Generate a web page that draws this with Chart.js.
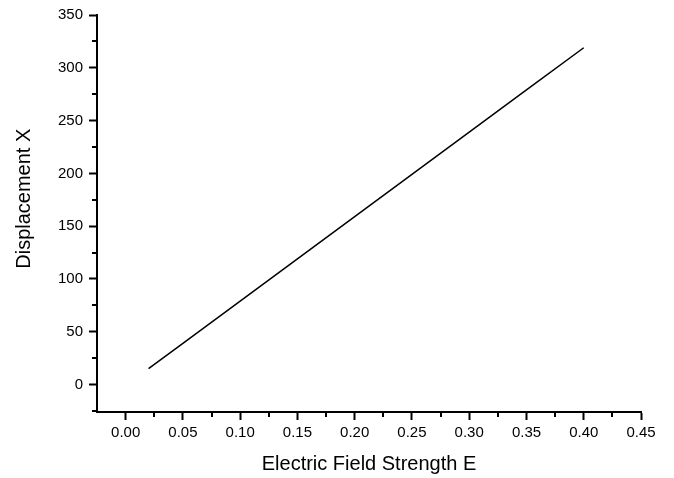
<!DOCTYPE html>
<html>
<head>
<meta charset="utf-8">
<script src="https://cdn.jsdelivr.net/npm/chart.js@4/dist/chart.umd.min.js"></script>
<style>
  html, body { margin: 0; padding: 0; background: #fff; }
  #wrap { width: 674px; height: 478px; }
</style>
</head>
<body>
<div id="wrap"><canvas id="dispChart"></canvas></div>
<script>
// values
const fieldE = [0.02, 0.05, 0.10, 0.15, 0.20, 0.25, 0.30, 0.35, 0.40];
const displacement = [15, 39, 79, 119, 159, 199, 239, 279, 319];

const xTicks = [0.00, 0.05, 0.10, 0.15, 0.20, 0.25, 0.30, 0.35, 0.40, 0.45];
const yTicks = [0, 50, 100, 150, 200, 250, 300, 350];
const xMinor = [0.025, 0.075, 0.125, 0.175, 0.225, 0.275, 0.325, 0.375, 0.425];
const yMinor = [-25, 25, 75, 125, 175, 225, 275, 325];

const yTitle = 'Displacement X';
const FONT = "'Liberation Sans', Arial, Helvetica, sans-serif";

// minor ticks (shorter, outward) and the y title, which sits a bit above centre in the original
const extras = {
    id: 'extras',
    afterDraw(chart) {
        const { ctx, chartArea, scales } = chart;
        ctx.save();
        ctx.strokeStyle = '#000';
        ctx.lineWidth = 2;
        ctx.beginPath();
        xMinor.forEach(v => {
            const px = Math.round(scales.x.getPixelForValue(v));
            ctx.moveTo(px, chartArea.bottom);
            ctx.lineTo(px, chartArea.bottom + 5);
        });
        yMinor.forEach(v => {
            const py = Math.round(scales.y.getPixelForValue(v));
            ctx.moveTo(chartArea.left, py);
            ctx.lineTo(chartArea.left - 5, py);
        });
        ctx.stroke();

        ctx.translate(24, scales.y.getPixelForValue(176));
        ctx.rotate(-Math.PI / 2);
        ctx.fillStyle = '#000';
        ctx.font = `20px ${FONT}`;
        ctx.textAlign = 'center';
        ctx.textBaseline = 'middle';
        ctx.fillText(yTitle, 0, 0);
        ctx.restore();
    }
};

const ctx = document.getElementById('dispChart').getContext('2d');
new Chart(ctx, {
    type: 'line',
    data: {
        datasets: [{
            data: fieldE.map((e, i) => ({ x: e, y: displacement[i] })),
            borderColor: '#000',
            borderWidth: 1.5,
            pointRadius: 0,
            fill: false,
            tension: 0
        }]
    },
    options: {
        responsive: true,
        maintainAspectRatio: false,
        animation: false,
        layout: { padding: { left: 0, right: 33, top: 14, bottom: 0 } },
        plugins: { legend: { display: false }, tooltip: { enabled: false } },
        scales: {
            x: {
                type: 'linear',
                min: -0.025,
                max: 0.45,
                afterBuildTicks: s => { s.ticks = xTicks.map(v => ({ value: v })); },
                afterFit: s => { s.height = 66; },
                border: { display: true, color: '#000', width: 2 },
                grid: { drawOnChartArea: false, drawTicks: true, tickLength: 8, tickWidth: 2, tickColor: '#000' },
                ticks: {
                    color: '#000',
                    padding: 4,
                    maxRotation: 0,
                    autoSkip: false,
                    font: { family: FONT, size: 15 },
                    callback: v => v.toFixed(2)
                },
                title: {
                    display: true,
                    text: 'Electric Field Strength E',
                    color: '#000',
                    font: { family: FONT, size: 20 },
                    padding: { top: 3, bottom: 2 }
                }
            },
            y: {
                type: 'linear',
                min: -26,
                max: 350,
                afterBuildTicks: s => { s.ticks = yTicks.map(v => ({ value: v })); },
                afterFit: s => { s.width = 97; },
                border: { display: true, color: '#000', width: 2 },
                grid: { drawOnChartArea: false, drawTicks: true, tickLength: 8, tickWidth: 2, tickColor: '#000' },
                ticks: {
                    color: '#000',
                    padding: 6,
                    autoSkip: false,
                    font: { family: FONT, size: 15 }
                },
                title: { display: false }
            }
        }
    },
    plugins: [extras]
});
</script>
</body>
</html>
